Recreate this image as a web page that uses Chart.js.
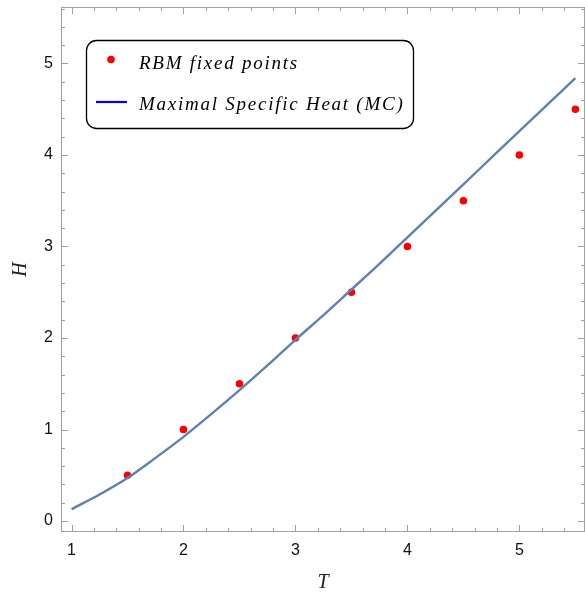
<!DOCTYPE html>
<html><head><meta charset="utf-8">
<script src="https://cdn.jsdelivr.net/npm/chart.js@4"></script>
<style>html,body{margin:0;padding:0;background:#fff;overflow:hidden}#wrap{width:585px;height:595px}canvas{display:block}</style>
</head><body><div id="wrap"><canvas id="c" width="585" height="595"></canvas></div>
<script>
const rbmT = [1.5, 2, 2.5, 3, 3.5, 4, 4.5, 5, 5.5];
const rbmH = [0.5, 1.0, 1.5, 2.0, 2.5, 3.0, 3.5, 4.0, 4.5];
const mcT = [1.0, 1.25, 1.5, 1.75, 2.0, 2.25, 2.5, 2.75, 3.0, 3.25, 3.5, 3.75, 4.0, 4.25, 4.5, 4.75, 5.0, 5.25, 5.5];
const mcH = [0.13, 0.29, 0.47, 0.69, 0.92, 1.17, 1.43, 1.70, 1.98, 2.25, 2.53, 2.81, 3.10, 3.39, 3.68, 3.97, 4.26, 4.55, 4.84];
const xTicks = [1, 2, 3, 4, 5];
const yTicks = [0, 1, 2, 3, 4, 5];
const legendLabels = ['RBM fixed points', 'Maximal Specific Heat (MC)'];

const FRAME = '#a0a0a0';
const plotFrame = {
  id: 'plotFrame',
  afterDraw(chart) {
    const {ctx, chartArea: a, scales: {x, y}} = chart;
    ctx.save();
    ctx.strokeStyle = FRAME; ctx.lineWidth = 1;
    ctx.strokeRect(a.left + 0.5, a.top + 0.5, a.right - a.left - 1, a.bottom - a.top - 1);
    const minorX = [], minorY = [];
    for (let v = 0.2 * Math.ceil(x.min / 0.2); v <= x.max; v += 0.2) minorX.push(Math.round(v * 10) / 10);
    for (let v = 0.2 * Math.ceil(y.min / 0.2); v <= y.max; v += 0.2) minorY.push(Math.round(v * 10) / 10);
    ctx.beginPath();
    minorX.forEach(v => {
      const px = Math.round(x.getPixelForValue(v)) + 0.5;
      const L = xTicks.includes(v) ? 7 : 4;
      ctx.moveTo(px, a.bottom); ctx.lineTo(px, a.bottom - L);
      ctx.moveTo(px, a.top); ctx.lineTo(px, a.top + L);
    });
    minorY.forEach(v => {
      const py = Math.round(y.getPixelForValue(v)) + 0.5;
      const L = yTicks.includes(v) ? 7 : 4;
      ctx.moveTo(a.left, py); ctx.lineTo(a.left + L, py);
      ctx.moveTo(a.right, py); ctx.lineTo(a.right - L, py);
    });
    ctx.stroke();
    // legend
    const bx = 86.5, by = 40.5, bw = 327, bh = 88, r = 10;
    ctx.fillStyle = '#fff'; ctx.strokeStyle = '#000'; ctx.lineWidth = 1.3;
    ctx.beginPath();
    ctx.roundRect(bx, by, bw, bh, r);
    ctx.fill(); ctx.stroke();
    ctx.fillStyle = '#ff0000';
    ctx.beginPath(); ctx.arc(111, 59.5, 3.8, 0, Math.PI * 2); ctx.fill();
    ctx.strokeStyle = '#0000ff'; ctx.lineWidth = 2.2;
    ctx.beginPath(); ctx.moveTo(96, 102); ctx.lineTo(127, 102); ctx.stroke();
    ctx.fillStyle = '#000';
    ctx.font = 'italic 19px "Liberation Serif", "DejaVu Serif", serif';
    ctx.textBaseline = 'alphabetic'; ctx.textAlign = 'left';
    ctx.letterSpacing = '1.75px';
    ctx.fillText(legendLabels[0], 139, 69);
    ctx.fillText(legendLabels[1], 139, 110);
    ctx.restore();
  }
};

function zeroPad(s) {
  s.paddingLeft = 0; s.paddingRight = 0; s.paddingTop = 0; s.paddingBottom = 0;
}

new Chart(document.getElementById('c'), {
  type: 'scatter',
  data: {
    datasets: [
      {
        label: legendLabels[1], type: 'line',
        data: mcT.map((t, i) => ({x: t, y: mcH[i]})),
        borderColor: '#5e81b5', borderWidth: 2.4, pointRadius: 0,
        cubicInterpolationMode: 'monotone', fill: false
      },
      {
        label: legendLabels[0],
        data: rbmT.map((t, i) => ({x: t, y: rbmH[i]})),
        backgroundColor: '#ff0000', borderWidth: 0, pointRadius: 3.8
      }
    ]
  },
  options: {
    responsive: false, animation: false,
    layout: {autoPadding: false, padding: {top: 7, right: 0, left: 0, bottom: 0}},
    plugins: {legend: {display: false}, tooltip: {enabled: false}},
    scales: {
      x: {
        type: 'linear', min: 0.906, max: 5.586,
        afterBuildTicks(s) { s.ticks = xTicks.map(v => ({value: v})); },
        afterFit(s) { s.height = 63; zeroPad(s); },
        grid: {display: false, drawTicks: false},
        border: {display: false},
        ticks: {color: '#111', font: {family: '"Liberation Sans", Arial, sans-serif', size: 16}, padding: 9, maxRotation: 0},
        title: {display: true, text: 'T', color: '#222', font: {family: '"Liberation Serif", serif', size: 20, style: 'italic'}, padding: {top: 10, bottom: 0}}
      },
      y: {
        type: 'linear', min: -0.12, max: 5.617,
        afterBuildTicks(s) { s.ticks = yTicks.map(v => ({value: v})); },
        afterFit(s) { s.width = 61; zeroPad(s); },
        grid: {display: false, drawTicks: false},
        border: {display: false},
        ticks: {color: '#111', font: {family: '"Liberation Sans", Arial, sans-serif', size: 16}, padding: 8},
        title: {display: true, text: 'H', color: '#222', font: {family: '"Liberation Serif", serif', size: 20, style: 'italic'}, padding: {top: 9, bottom: 4}}
      }
    }
  },
  plugins: [plotFrame]
});
</script></body></html>
